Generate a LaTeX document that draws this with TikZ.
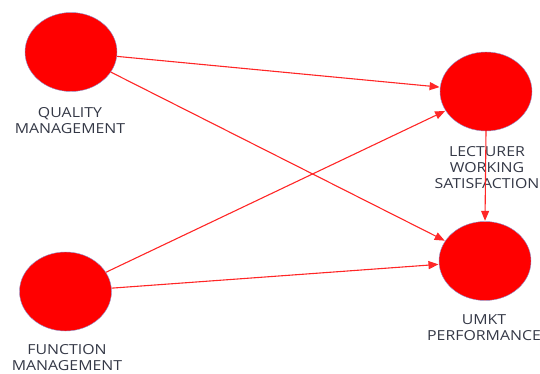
\documentclass[tikz,border=0pt]{standalone}
\usepackage{fontspec}
\setmainfont{Open Sans}[FakeStretch=1.15]
\usetikzlibrary{shapes.geometric,arrows.meta}
\definecolor{txt}{RGB}{52,56,70}
\definecolor{edge}{RGB}{140,150,210}
\tikzset{
  latent/.style={ellipse,fill=red,draw=edge,line width=0.4pt,minimum width=92pt,minimum height=79pt,inner sep=0pt},
  lbl/.style={align=center,text=txt,font=\fontsize{13.8}{16}\selectfont,inner sep=0pt},
  path/.style={draw=red!85!white,line width=1.1pt,-{Triangle[length=10pt,width=8pt]},shorten >=0.5pt}
}
\begin{document}
\begin{tikzpicture}[x=1pt,y=-1pt]
\useasboundingbox (0,0) rectangle (540,374);
\node[latent] (q) at (71,52) {};
\node[latent] (f) at (65.5,291.5) {};
\node[latent] (l) at (486,91.5) {};
\node[latent] (u) at (485,261) {};
\node[lbl] (ql) at (70,121) {QUALITY\\MANAGEMENT};
\node[lbl] (fl) at (67,358) {FUNCTION\\MANAGEMENT};
\node[lbl] (ll) at (487,168) {LECTURER\\WORKING\\SATISFACTION};
\node[lbl] (ul) at (484,328) {UMKT\\PERFORMANCE};
\draw[path] (q) -- (l);
\draw[path] (q) -- (u);
\draw[path] (f) -- (l);
\draw[path] (f) -- (u);
\draw[path] (l.south) -- (u.north);
\end{tikzpicture}
\end{document}
